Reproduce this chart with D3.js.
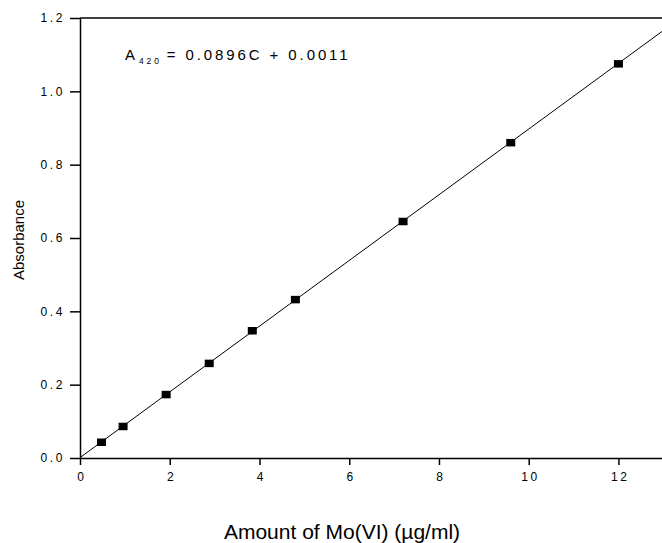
<!DOCTYPE html>
<html>
<head>
<meta charset="utf-8">
<script src="https://cdnjs.cloudflare.com/ajax/libs/d3/7.8.5/d3.min.js"></script>
<style>
  body { margin: 0; background: #fff; }
  svg { display: block; font-family: "Liberation Sans", Arial, sans-serif; }
  .axis path, .axis line { stroke: #000; stroke-width: 1.5; }
  .axis text { fill: #000; font-size: 12px; letter-spacing: 2.6px; }
</style>
</head>
<body>
<div id="chart"></div>
<script>
// concentration of Mo(VI), ug/ml
const conc = [0.48, 0.96, 1.92, 2.88, 3.84, 4.8, 7.2, 9.6, 12];
// absorbance at 420 nm
const absorb = [0.043, 0.086, 0.173, 0.258, 0.347, 0.432, 0.645, 0.860, 1.075];
const xTicks = [0, 2, 4, 6, 8, 10, 12];
const yTicks = [0, 0.2, 0.4, 0.6, 0.8, 1.0, 1.2];
const slope = 0.0896, intercept = 0.0011;

const svg = d3.select("#chart").append("svg").attr("width", 662).attr("height", 543);
var margin = { top: 18, left: 80 },
  height = 440;

var x = d3.scaleLinear().domain([0, 13]).range([margin.left, margin.left + 13 * 44.87]);
var y = d3.scaleLinear().domain([0, 1.2]).range([margin.top + height, margin.top]);

// top frame line
svg.append("line")
  .attr("x1", x(0)).attr("x2", x(13))
  .attr("y1", y(1.2)).attr("y2", y(1.2))
  .attr("stroke", "#000").attr("stroke-width", 1.5);

svg.append("g")
  .attr("class", "axis")
  .attr("transform", `translate(0,${y(0)})`)
  .call(d3.axisBottom(x).tickValues(xTicks).tickSize(7).tickSizeOuter(0).tickPadding(7).tickFormat(d3.format("d")))
  .selectAll("text").attr("dx", "1.3px");

svg.append("g")
  .attr("class", "axis")
  .attr("transform", `translate(${x(0)},0)`)
  .call(d3.axisLeft(y).tickValues(yTicks).tickSize(10).tickSizeOuter(0).tickPadding(5).tickFormat(d3.format(".1f")));

// regression line
svg.append("line")
  .attr("x1", x(0)).attr("y1", y(intercept))
  .attr("x2", x(13)).attr("y2", y(slope * 13 + intercept))
  .attr("stroke", "#000").attr("stroke-width", 1);

var pts = conc.map((c, i) => ({ c: c, a: absorb[i] }));
svg.selectAll(".pt").data(pts).enter()
  .append("rect")
  .attr("class", "pt")
  .attr("x", (d) => x(d.c) - 4.5)
  .attr("y", (d) => y(d.a) - 3.75)
  .attr("width", 9)
  .attr("height", 7.5)
  .attr("fill", "#000");

// equation
var eq = svg.append("text").attr("x", 125).attr("y", 60)
  .attr("font-size", 15).attr("letter-spacing", "2.9px").attr("fill", "#000");
eq.append("tspan").text("A");
eq.append("tspan").attr("font-size", 8.5).attr("dy", 35 - 0).attr("dy", 3.5).attr("dx", 1).text("420");
eq.append("tspan").attr("dy", -3.5).attr("dx", 5).text("= 0.0896C + 0.0011");

svg.append("text")
  .attr("transform", "translate(24,240) rotate(-90)")
  .attr("text-anchor", "middle")
  .attr("font-size", 15)
  .text("Absorbance");

svg.append("text")
  .attr("x", 342).attr("y", 539)
  .attr("text-anchor", "middle")
  .attr("font-size", 21)
  .text("Amount of Mo(VI) (µg/ml)");
</script>
</body>
</html>
